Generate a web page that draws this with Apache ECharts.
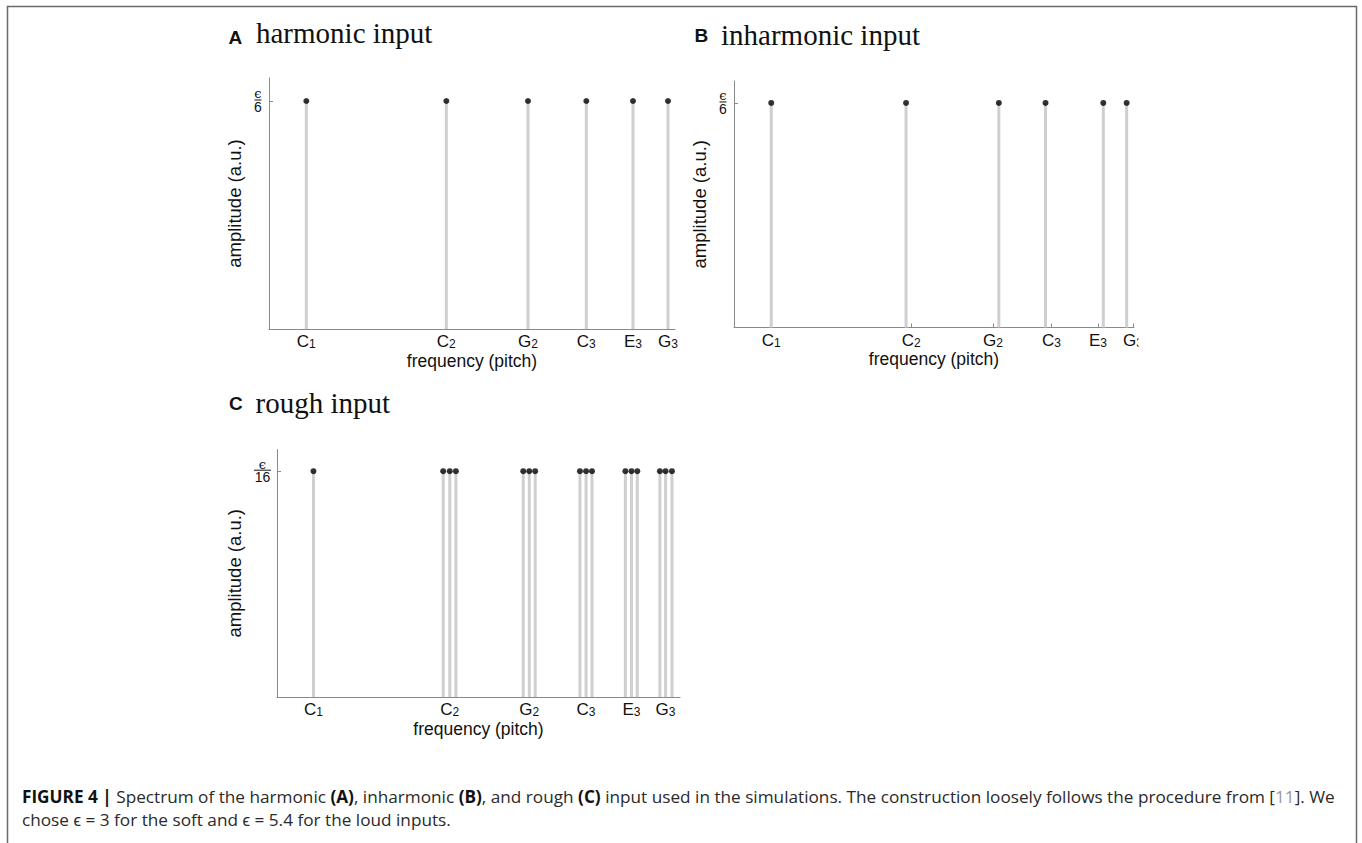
<!DOCTYPE html>
<html>
<head>
<meta charset="utf-8">
<script src="https://cdn.jsdelivr.net/npm/echarts@6/dist/echarts.min.js"></script>
<style>
html, body { margin: 0; padding: 0; background: #fff; }
#fig { width: 1362px; height: 843px; }
</style>
</head>
<body>
<div id="fig"></div>
<script>
// Pitch axis in semitones (MIDI numbering, C1 = 24); amplitudes in units of epsilon.
const noteTicks = [24, 36, 43, 48, 52, 55];
const noteLetters = ['C', 'C', 'G', 'C', 'E', 'G'];
const noteOctaves = ['1', '2', '2', '3', '3', '3'];

// A: harmonic input
const harmonicPitch = [24, 36, 43, 48, 52, 55];
const harmonicAmp = [0.1667, 0.1667, 0.1667, 0.1667, 0.1667, 0.1667];

// B: inharmonic input
const inharmonicPitch = [24, 35.55, 43.5, 47.5, 52.45, 54.45];
const inharmonicAmp = [0.1667, 0.1667, 0.1667, 0.1667, 0.1667, 0.1667];

// C: rough input (partials split into clusters of three)
const roughPitch = [24, 35.42, 36, 36.54, 42.47, 43, 43.52, 47.46, 48, 48.52,
                    51.46, 52, 52.51, 54.5, 55, 55.56];
const roughAmp = [0.0625, 0.0625, 0.0625, 0.0625, 0.0625, 0.0625, 0.0625, 0.0625,
                  0.0625, 0.0625, 0.0625, 0.0625, 0.0625, 0.0625, 0.0625, 0.0625];

// amplitude tick per panel and its denominator under epsilon
const ampTicks = [0.1667, 0.1667, 0.0625];
const ampDenoms = ['6', '6', '16'];

const SANS = '"Liberation Sans", Arial, Helvetica, sans-serif';
const SERIF = '"Liberation Serif", "Times New Roman", serif';
const CAPTION_FONT = '"Open Sans", "Liberation Sans", sans-serif';
const AXIS_GREY = '#8a8a8a';

const panels = [
  { grid: { left: 269, top: 78, width: 406, height: 251 }, xMin: 20.8, xMax: 55.6, yMax: 0.1835,
    pitch: harmonicPitch, amp: harmonicAmp, labelMargin: 11, barW: 7, nameGap: 25 },
  { grid: { left: 734, top: 81, width: 400, height: 246.5 }, xMin: 20.81, xMax: 55.08, yMax: 0.183,
    pitch: inharmonicPitch, amp: inharmonicAmp, labelMargin: 11, barW: 7, nameGap: 25 },
  { grid: { left: 277, top: 449.5, width: 403, height: 247.5 }, xMin: 20.79, xMax: 56.27, yMax: 0.0685,
    pitch: roughPitch, amp: roughAmp, labelMargin: 14.5, barW: 17, nameGap: 33 }
];

function noteLabel(v) {
  const i = noteTicks.indexOf(v);
  if (i < 0) return '';
  return '{n|' + noteLetters[i] + '}{s|' + noteOctaves[i] + '}';
}

const grids = [], xAxes = [], yAxes = [], series = [];
panels.forEach((p, k) => {
  grids.push(Object.assign({ containLabel: false, outerBoundsMode: 'none' }, p.grid));
  xAxes.push({
    type: 'value', gridIndex: k, min: p.xMin, max: p.xMax,
    splitLine: { show: false },
    axisLine: { lineStyle: { color: AXIS_GREY, width: 1 } },
    axisTick: { show: true, inside: true, length: 4, customValues: noteTicks,
                lineStyle: { color: AXIS_GREY } },
    axisLabel: {
      customValues: noteTicks, margin: 6, color: '#111',
      formatter: noteLabel,
      rich: {
        n: { fontFamily: SANS, fontSize: 17, lineHeight: 15, verticalAlign: 'bottom', color: '#111' },
        s: { fontFamily: SANS, fontSize: 12, lineHeight: 5, verticalAlign: 'bottom', color: '#111' }
      }
    },
    name: 'frequency (pitch)', nameLocation: 'middle', nameGap: 24.5, nameMoveOverlap: false,
    nameTextStyle: { fontFamily: SANS, fontSize: 17.5, lineHeight: 14, color: '#111' }
  });
  yAxes.push({
    type: 'value', gridIndex: k, min: 0, max: p.yMax,
    splitLine: { show: false },
    axisLine: { show: true, lineStyle: { color: AXIS_GREY, width: 1 } },
    axisTick: { show: true, inside: true, length: 4, customValues: [ampTicks[k]],
                lineStyle: { color: AXIS_GREY } },
    axisLabel: {
      customValues: [ampTicks[k]], margin: p.labelMargin, align: 'center',
      formatter: () => '{e|\u03f5}\n{b| }\n{d|' + ampDenoms[k] + '}',
      rich: {
        e: { fontFamily: '"DejaVu Serif", serif', fontSize: 13, lineHeight: 9, color: '#111', align: 'center' },
        b: { width: p.barW, height: 1, lineHeight: 3, fontSize: 1, backgroundColor: '#111', align: 'center' },
        d: { fontFamily: SANS, fontSize: 14, lineHeight: 11, color: '#111', align: 'center' }
      }
    },
    name: 'amplitude (a.u.)', nameLocation: 'middle', nameRotate: 90, nameGap: p.nameGap,
    nameMoveOverlap: false,
    nameTextStyle: { fontFamily: SANS, fontSize: 18.5, color: '#111' }
  });
  const pts = p.pitch.map((x, i) => [x, p.amp[i]]);
  series.push({
    type: 'bar', xAxisIndex: k, yAxisIndex: k, data: pts, barWidth: 3,
    itemStyle: { color: '#cfcfcf' }, silent: true, z: 2, animation: false
  });
  series.push({
    type: 'scatter', xAxisIndex: k, yAxisIndex: k, data: pts, symbol: 'circle', symbolSize: 6,
    itemStyle: { color: '#000' }, silent: true, z: 3, animation: false
  });
});

function panelTitle(letter, text, lx, tx, cy, ty) {
  return [
    { type: 'text', left: lx, top: cy - 11, style: { text: letter, fontFamily: SANS, fontWeight: 'bold',
      fontSize: 19, fill: '#111', verticalAlign: 'top' } },
    { type: 'text', left: tx, top: ty - 17, style: { text: text, fontFamily: SERIF, fontSize: 29,
      fill: '#111', verticalAlign: 'top' } }
  ];
}

const captionLine1 = '{b|FIGURE 4 |} Spectrum of the harmonic {b|(A)}, inharmonic {b|(B)}, and rough {b|(C)} input used in the simulations. The construction loosely follows the procedure from [{g|11}]. We';
const captionLine2 = 'chose \u03f5 = 3 for the soft and \u03f5 = 5.4 for the loud inputs.';

const graphic = [
  // figure frame
  { type: 'polyline', shape: { points: [[7.5, 860], [7.5, 6.5], [1356.5, 6.5], [1356.5, 860]] },
    style: { stroke: '#6a6a6a', lineWidth: 1.5, fill: null }, silent: true },
  ...panelTitle('A', 'harmonic input', 228.5, 256, 39, 35),
  ...panelTitle('B', 'inharmonic input', 694.5, 721, 37, 37),
  ...panelTitle('C', 'rough input', 229, 255.5, 405, 405),
  // right edge of panel B is cut off
  { type: 'rect', shape: { x: 1138.5, y: 333, width: 22, height: 24 }, style: { fill: '#fff' }, z: 100, silent: true },
  { type: 'text', left: 22, top: 787.5, style: { text: captionLine1, fontFamily: CAPTION_FONT, fontSize: 17.2,
    fill: '#2a2a2a', verticalAlign: 'top',
    rich: { b: { fontFamily: CAPTION_FONT, fontSize: 17.2, fontWeight: 'bold', fill: '#111' },
            g: { fontFamily: CAPTION_FONT, fontSize: 17.2, fill: '#9a9a9a' } } } },
  { type: 'text', left: 22, top: 810.5, style: { text: captionLine2, fontFamily: CAPTION_FONT, fontSize: 17.2,
    fill: '#2a2a2a', verticalAlign: 'top' } }
];

const chart = echarts.init(document.getElementById('fig'), null, { renderer: 'svg', width: 1362, height: 843 });
chart.setOption({
  animation: false,
  backgroundColor: '#fff',
  grid: grids, xAxis: xAxes, yAxis: yAxes, series: series,
  graphic: graphic
});
</script>
</body>
</html>
